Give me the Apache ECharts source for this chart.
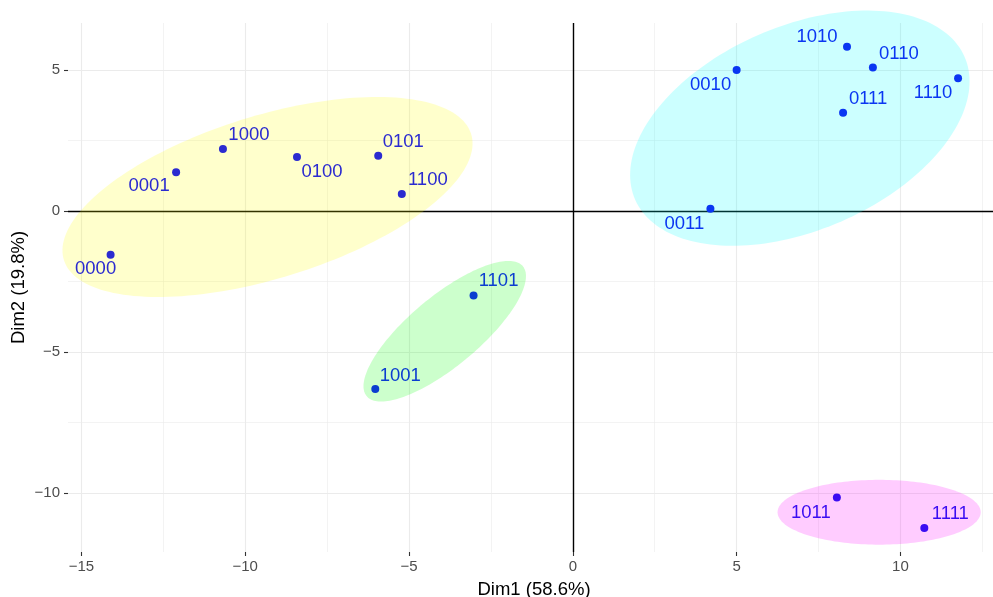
<!DOCTYPE html>
<html>
<head>
<meta charset="utf-8">
<script src="https://cdn.jsdelivr.net/npm/echarts@6/dist/echarts.min.js"></script>
<style>
  html, body { margin: 0; padding: 0; background: #ffffff; }
  #chart { width: 993px; height: 597px; }
</style>
</head>
<body>
<div id="chart"></div>
<script>
// Individuals on the first two principal dimensions
const names   = ['0000','0001','1000','0100','0101','1100','1101','1001','0010','1010','0110','0111','1110','0011','1011','1111'];
const dim1    = [-14.11,-12.11,-10.68,-8.42,-5.94,-5.22,-3.03,-6.03, 5.00, 8.37, 9.16, 8.25,11.76, 4.20,  8.06, 10.73];
const dim2    = [ -1.56,  1.37,  2.19, 1.91, 1.95, 0.60,-3.00,-6.32, 4.99, 5.82, 5.08, 3.48, 4.70, 0.07,-10.17,-11.25];
const cluster = [1,1,1,1,1,1,3,3,2,2,2,2,2,2,4,4];

// Cluster ellipses: centre, semi-axes and rotation (degrees) in Dim1/Dim2 units
const ellipseCluster = [1, 2, 3, 4];
const ellipseCx      = [-9.32, 6.93, -3.91,   9.35];
const ellipseCy      = [ 0.49, 2.93, -4.27, -10.69];
const ellipseA       = [ 6.61, 5.65,  3.32,   3.10];
const ellipseB       = [ 2.84, 3.51,  1.16,   1.15];
const ellipseAngle   = [20.85, 30.6,  45.2,   0.0];

// Axis ticks
const xTicks = [-15, -10, -5, 0, 5, 10];
const yTicks = [-10, -5, 0, 5];
const xMinor = [-12.5, -7.5, -2.5, 2.5, 7.5, 12.5];
const yMinor = [-7.5, -2.5, 2.5];
const xTickLabels = ['\u221215', '\u221210', '\u22125', '0', '5', '10'];
const yTickLabels = ['\u221210', '\u22125', '0', '5'];

// Styling
const pointColor = { 1: '#2b2bd0', 2: '#0a36f2', 3: '#0b3dd0', 4: '#3a0cf2' };
const fillColor  = { 1: 'rgba(255,255,0,0.2)', 2: 'rgba(0,255,255,0.2)', 3: 'rgba(0,255,0,0.2)', 4: 'rgba(255,0,255,0.2)' };
const labelOffset = {
  '0000': [-15, 14], '0001': [-27, 14], '1000': [26, -14], '0100': [25, 15],
  '0101': [25, -14], '1100': [26, -14], '1101': [25, -14], '1001': [25, -13],
  '0010': [-26, 15], '1010': [-30, -10], '0110': [26, -14], '0111': [25, -14],
  '1110': [-25, 15], '0011': [-26, 15], '1011': [-26, 15], '1111': [26, -14]
};
const FONT = '"Liberation Sans", Arial, Helvetica, sans-serif';

const chart = echarts.init(document.getElementById('chart'), null, { renderer: 'canvas' });

const gridMajor = { color: '#ebebeb', width: 1.1, type: 'solid' };
const gridMinor = { color: '#ebebeb', width: 0.6, type: 'solid' };
const gridLines = [].concat(
  xTicks.filter(v => v !== 0).map(v => ({ xAxis: v, lineStyle: gridMajor })),
  yTicks.filter(v => v !== 0).map(v => ({ yAxis: v, lineStyle: gridMajor })),
  xMinor.map(v => ({ xAxis: v, lineStyle: gridMinor })),
  yMinor.map(v => ({ yAxis: v, lineStyle: gridMinor }))
);

const pointData = names.map((n, i) => ({
  name: n,
  value: [dim1[i], dim2[i]],
  itemStyle: { color: pointColor[cluster[i]], opacity: 1 },
  label: { color: pointColor[cluster[i]], offset: labelOffset[n] }
}));

const ellipseData = ellipseCluster.map((c, i) => [ellipseCx[i], ellipseCy[i], i]);

function labelFor(ticks, labels) {
  return v => {
    const k = ticks.findIndex(t => Math.abs(t - v) < 1e-9);
    return k >= 0 ? labels[k] : '';
  };
}

chart.setOption({
  animation: false,
  backgroundColor: '#ffffff',
  textStyle: { fontFamily: FONT },
  grid: { left: 68, right: -7, top: 23, bottom: 45, containLabel: false, outerBoundsMode: 'none' },
  xAxis: {
    type: 'value',
    min: -15.41, max: 13.04,
    name: 'Dim1 (58.6%)',
    nameLocation: 'middle',
    nameGap: 28,
    nameTextStyle: { fontSize: 18.5, color: '#000000', fontFamily: FONT },
    axisLine: { show: false, onZero: false },
    splitLine: { show: false },
    axisTick: { show: true, customValues: xTicks, length: 4, lineStyle: { color: '#333333', width: 1.1 } },
    axisLabel: { customValues: xTicks, formatter: labelFor(xTicks, xTickLabels), fontSize: 15, color: '#4d4d4d', margin: 7, fontFamily: FONT }
  },
  yAxis: {
    type: 'value',
    min: -12.10, max: 6.66,
    name: 'Dim2 (19.8%)',
    nameLocation: 'middle',
    nameGap: 40,
    nameMoveOverlap: false,
    nameTextStyle: { fontSize: 18.5, color: '#000000', fontFamily: FONT },
    axisLine: { show: false, onZero: false },
    splitLine: { show: false },
    axisTick: { show: true, customValues: yTicks, length: 4, lineStyle: { color: '#333333', width: 1.1 } },
    axisLabel: { customValues: yTicks, formatter: labelFor(yTicks, yTickLabels), fontSize: 15, color: '#4d4d4d', margin: 8, fontFamily: FONT }
  },
  series: [
    {
      // panel grid
      type: 'scatter', data: [], z: 0, silent: true,
      markLine: { z: 0, silent: true, symbol: 'none', label: { show: false }, animation: false, data: gridLines }
    },
    {
      // reference lines through the origin
      type: 'scatter', data: [], z: 1, silent: true,
      markLine: {
        z: 1, silent: true, symbol: 'none', label: { show: false }, animation: false,
        lineStyle: { color: '#000000', width: 1.4, type: 'solid' },
        data: [{ xAxis: 0 }, { yAxis: 0 }]
      }
    },
    {
      type: 'custom',
      z: 2,
      silent: true,
      clip: false,
      data: ellipseData,
      encode: { x: 0, y: 1 },
      renderItem: function (params, api) {
        const i = params.dataIndex;
        const th = ellipseAngle[i] * Math.PI / 180;
        const ct = Math.cos(th), st = Math.sin(th);
        const pts = [];
        for (let k = 0; k < 180; k++) {
          const t = 2 * Math.PI * k / 180;
          const u = ellipseA[i] * Math.cos(t), w = ellipseB[i] * Math.sin(t);
          pts.push(api.coord([ellipseCx[i] + u * ct - w * st, ellipseCy[i] + u * st + w * ct]));
        }
        return { type: 'polygon', shape: { points: pts }, style: { fill: fillColor[ellipseCluster[i]], stroke: null } };
      }
    },
    {
      type: 'scatter',
      z: 3,
      symbol: 'circle',
      symbolSize: 8,
      data: pointData,
      itemStyle: { opacity: 1 },
      label: {
        show: true,
        position: 'inside',
        align: 'center',
        verticalAlign: 'middle',
        formatter: p => p.name,
        fontSize: 18.5,
        fontFamily: FONT
      }
    }
  ]
});
</script>
</body>
</html>
